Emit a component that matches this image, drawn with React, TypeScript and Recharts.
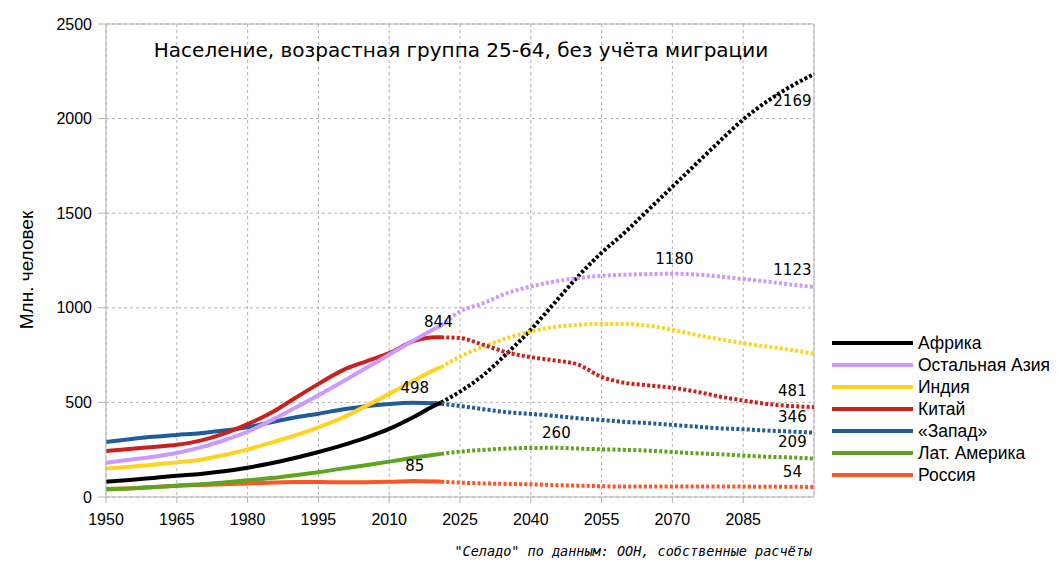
import { LineChart, Line, XAxis, YAxis, CartesianGrid, ReferenceLine } from "recharts";

const HIST_YEARS = [1950, 1955, 1960, 1965, 1970, 1975, 1980, 1985, 1990, 1995, 2000, 2005, 2010, 2015, 2020, 2021];
const PROJ_YEARS = [2021, 2025, 2030, 2035, 2040, 2045, 2050, 2055, 2060, 2065, 2070, 2075, 2080, 2085, 2090, 2095, 2100];

const X_TICKS = [1950, 1965, 1980, 1995, 2010, 2025, 2040, 2055, 2070, 2085];
const Y_TICKS = [0, 500, 1000, 1500, 2000, 2500];

const africaHist = [81, 90, 101, 112, 122, 136, 155, 178, 206, 238, 273, 313, 360, 420, 488, 499];
const africaProj = [499, 557, 646, 760, 884, 1025, 1166, 1291, 1400, 1520, 1640, 1760, 1880, 1995, 2090, 2169, 2235];

const asiaHist = [181, 197, 213, 233, 262, 300, 345, 405, 470, 538, 608, 680, 753, 825, 893, 905];
const asiaProj = [905, 980, 1025, 1078, 1113, 1139, 1157, 1169, 1175, 1178, 1180, 1176, 1166, 1152, 1139, 1123, 1110];

const indiaHist = [150, 160, 171, 183, 197, 222, 252, 287, 325, 368, 418, 480, 545, 612, 676, 686];
const indiaProj = [686, 742, 795, 840, 875, 898, 910, 915, 915, 905, 884, 857, 834, 813, 795, 778, 757];

const chinaHist = [243, 254, 264, 276, 298, 335, 385, 445, 522, 598, 668, 716, 760, 822, 844, 844];
const chinaProj = [844, 840, 804, 764, 739, 722, 700, 635, 603, 590, 577, 557, 531, 510, 492, 481, 475];

const westHist = [291, 305, 318, 328, 337, 351, 368, 395, 420, 440, 462, 480, 492, 498, 495, 493];
const westProj = [493, 481, 464, 448, 439, 429, 416, 407, 397, 390, 381, 372, 363, 358, 351, 346, 340];

const latamHist = [40, 45, 52, 60, 67, 77, 88, 100, 115, 131, 150, 168, 187, 207, 225, 228];
const latamProj = [228, 240, 249, 256, 259, 260, 256, 252, 249, 245, 238, 231, 226, 219, 213, 209, 203];

const russiaHist = [42, 46, 53, 59, 63, 67, 72, 76, 79, 79, 78, 78, 80, 85, 82, 81];
const russiaProj = [81, 76, 72, 69, 67, 63, 60, 57, 55, 55, 56, 56, 55, 55, 54, 54, 53];

const SERIES = [
  { id: "africa", name: "Африка", color: "#000000", hist: africaHist, proj: africaProj },
  { id: "asia", name: "Остальная Азия", color: "#cc99ff", hist: asiaHist, proj: asiaProj },
  { id: "india", name: "Индия", color: "#ffd320", hist: indiaHist, proj: indiaProj },
  { id: "china", name: "Китай", color: "#c9211e", hist: chinaHist, proj: chinaProj },
  { id: "west", name: "«Запад»", color: "#1f5c99", hist: westHist, proj: westProj },
  { id: "latam", name: "Лат. Америка", color: "#5ea51f", hist: latamHist, proj: latamProj },
  { id: "russia", name: "Россия", color: "#ff5429", hist: russiaHist, proj: russiaProj },
];

// which points get a value label
const LABEL_POINTS = [
  { key: "chinaH", year: 2020 },
  { key: "westH", year: 2015 },
  { key: "russiaH", year: 2015 },
  { key: "latamP", year: 2045 },
  { key: "asiaP", year: 2070 },
  { key: "asiaP", year: 2095 },
  { key: "chinaP", year: 2095 },
  { key: "westP", year: 2095 },
  { key: "latamP", year: 2095 },
  { key: "russiaP", year: 2095 },
  { key: "africaP", year: 2095, below: true },
];

const allYears = Array.from(new Set([...HIST_YEARS, ...PROJ_YEARS])).sort((a, b) => a - b);

const data = allYears.map((year) => {
  const row: Record<string, number | null> = { year };
  SERIES.forEach((s) => {
    const hi = HIST_YEARS.indexOf(year);
    const pi = PROJ_YEARS.indexOf(year);
    row[s.id + "H"] = hi >= 0 ? s.hist[hi] : null;
    row[s.id + "P"] = pi >= 0 ? s.proj[pi] : null;
  });
  return row;
});

function makeLabel(key: string) {
  return (props: any) => {
    const { x, y, index, value } = props;
    const row = data[index];
    if (!row || value == null) return null;
    const spec = LABEL_POINTS.find((p) => p.key === key && p.year === row.year);
    if (!spec) return null;
    return (
      <text
        x={x + 2}
        y={spec.below ? y + 19 : y - 10}
        textAnchor="middle"
        fontFamily="DejaVu Sans"
        fontSize={15}
        fill="#000"
      >
        {value}
      </text>
    );
  };
}

const axisFont = { fontFamily: "Liberation Sans", fontSize: 16, fill: "#000" };

export default function App() {
  return (
    <div style={{ position: "absolute", left: 0, top: 0, width: 1060, height: 577, background: "#fff" }}>
      <LineChart width={1060} height={577} data={data} margin={{ top: 24, right: 246, left: 46, bottom: 50 }}>
        <CartesianGrid stroke="#b3b3b3" strokeDasharray="3 3" />
        <XAxis
          type="number"
          dataKey="year"
          domain={[1950, 2100]}
          ticks={X_TICKS}
          interval={0}
          height={30}
          tick={axisFont}
          tickSize={6}
          tickMargin={11}
          stroke="#b3b3b3"
        />
        <YAxis
          type="number"
          domain={[0, 2500]}
          ticks={Y_TICKS}
          interval={0}
          width={60}
          tick={axisFont}
          tickSize={8}
          tickMargin={6}
          stroke="#b3b3b3"
        />
        <ReferenceLine y={2500} stroke="#b3b3b3" />
        <ReferenceLine x={2100} stroke="#b3b3b3" />
        {SERIES.map((s) => (
          <Line
            key={s.id + "P"}
            type="monotone"
            dataKey={s.id + "P"}
            stroke={s.color}
            strokeWidth={4}
            strokeDasharray="3 2.2"
            dot={false}
            activeDot={false}
            isAnimationActive={false}
            label={makeLabel(s.id + "P")}
          />
        ))}
        {SERIES.slice().reverse().map((s) => (
          <Line
            key={s.id + "H"}
            type="monotone"
            dataKey={s.id + "H"}
            name={s.name}
            stroke={s.color}
            strokeWidth={4}
            dot={false}
            activeDot={false}
            isAnimationActive={false}
            label={makeLabel(s.id + "H")}
          />
        ))}
      </LineChart>

      <svg width={1060} height={577} style={{ position: "absolute", left: 0, top: 0, pointerEvents: "none" }}>
        <text x={461} y={57} textAnchor="middle" fontFamily="DejaVu Sans" fontSize={20} fill="#000">
          Население, возрастная группа 25-64, без учёта миграции
        </text>
        <text
          x={33}
          y={270}
          transform="rotate(-90 33 270)"
          textAnchor="middle"
          fontFamily="Liberation Sans"
          fontSize={19}
          fill="#000"
        >
          Млн. человек
        </text>
        <text
          x={812}
          y={556}
          textAnchor="end"
          fontFamily="DejaVu Sans Mono"
          fontStyle="italic"
          fontSize={13.5}
          fill="#000"
        >
          "Селадо" по данным: ООН, собственные расчёты
        </text>
      </svg>

      <div style={{ position: "absolute", left: 832, top: 332, fontFamily: "Liberation Sans", fontSize: 17.5, color: "#000" }}>
        {SERIES.map((s) => (
          <div key={s.id} style={{ display: "flex", alignItems: "center", height: 22 }}>
            <div style={{ width: 81, height: 4, background: s.color }} />
            <span style={{ marginLeft: 5, whiteSpace: "nowrap" }}>{s.name}</span>
          </div>
        ))}
      </div>
    </div>
  );
}
